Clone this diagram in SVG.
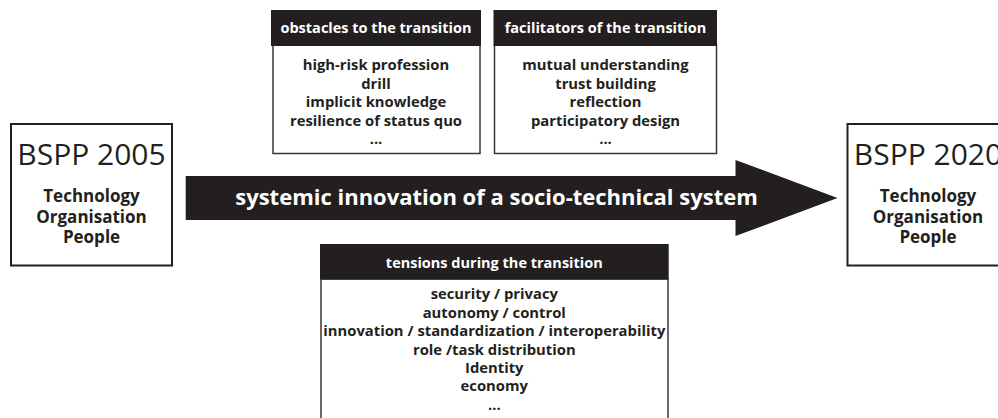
<svg xmlns="http://www.w3.org/2000/svg" width="998" height="418" viewBox="0 0 998 418">
<style>
  .bg { fill: #ffffff; }
  .state { fill: #ffffff; stroke: #231f20; stroke-width: 2; }
  .body { fill: #ffffff; stroke: #3a3536; stroke-width: 1.5; }
  .head { fill: #231f20; }
  .title { font-family: "Open Sans", "Liberation Sans", sans-serif; font-size: 30px; font-weight: 400; fill: #231f20; text-anchor: middle; }
  .sub { font-family: "Open Sans", "Liberation Sans", sans-serif; font-size: 17px; font-weight: 700; fill: #231f20; text-anchor: middle; }
  .htxt { font-family: "Open Sans", "Liberation Sans", sans-serif; font-size: 14.5px; font-weight: 700; fill: #ffffff; text-anchor: middle; }
  .btxt { font-family: "Open Sans", "Liberation Sans", sans-serif; font-size: 14.8px; font-weight: 700; fill: #231f20; text-anchor: middle; }
  .atxt { font-family: "Open Sans", "Liberation Sans", sans-serif; font-size: 22px; font-weight: 700; fill: #ffffff; text-anchor: middle; }
  .arrow { fill: #231f20; }
</style>
<rect class="bg" x="0" y="0" width="998" height="418"/>

<g id="connectors">
  <polygon class="arrow" points="185.7,176 735.5,176 735.5,160 837.5,198 735.5,236 735.5,220 185.7,220"/>
  <text class="atxt" x="496.5" y="205">systemic innovation of a socio-technical system</text>
</g>

<g id="bspp2005">
  <rect class="state" x="11" y="124" width="161" height="141.5"/>
  <text class="title" x="91.5" y="165">BSPP 2005</text>
  <text class="sub" x="91.5" y="202">Technology</text>
  <text class="sub" x="91.5" y="222.7">Organisation</text>
  <text class="sub" x="91.5" y="243.3">People</text>
</g>

<g id="bspp2020">
  <rect class="state" x="847.5" y="124" width="161" height="141.5"/>
  <text class="title" x="928" y="165">BSPP 2020</text>
  <text class="sub" x="928" y="202">Technology</text>
  <text class="sub" x="928" y="222.7">Organisation</text>
  <text class="sub" x="928" y="243.3">People</text>
</g>

<g id="obstacles">
  <rect class="body" x="273" y="45" width="207" height="108.5"/>
  <rect class="head" x="271" y="10" width="210" height="36"/>
  <text class="htxt" x="376" y="33.3">obstacles to the transition</text>
  <text class="btxt" x="376" y="70">high-risk profession</text>
  <text class="btxt" x="376" y="88.5">drill</text>
  <text class="btxt" x="376" y="107">implicit knowledge</text>
  <text class="btxt" x="376" y="125.5">resilience of status quo</text>
  <text class="btxt" x="376" y="144">...</text>
</g>

<g id="facilitators">
  <rect class="body" x="494.5" y="45" width="222" height="108.5"/>
  <rect class="head" x="493.5" y="10" width="223.5" height="36"/>
  <text class="htxt" x="605.5" y="33.3">facilitators of the transition</text>
  <text class="btxt" x="605.5" y="70">mutual understanding</text>
  <text class="btxt" x="605.5" y="88.5">trust building</text>
  <text class="btxt" x="605.5" y="107">reflection</text>
  <text class="btxt" x="605.5" y="125.5">participatory design</text>
  <text class="btxt" x="605.5" y="144">...</text>
</g>

<g id="tensions">
  <rect class="body" x="321" y="279" width="347" height="160"/>
  <rect class="head" x="320" y="244" width="348.7" height="35.5"/>
  <text class="htxt" x="494.3" y="268">tensions during the transition</text>
  <text class="btxt" x="494.3" y="299.3">security / privacy</text>
  <text class="btxt" x="494.3" y="317.7">autonomy / control</text>
  <text class="btxt" x="494.3" y="336">innovation / standardization / interoperability</text>
  <text class="btxt" x="494.3" y="354.5">role /task distribution</text>
  <text class="btxt" x="494.3" y="372.8">Identity</text>
  <text class="btxt" x="494.3" y="391.2">economy</text>
  <text class="btxt" x="494.3" y="409.6">...</text>
</g>
</svg>
